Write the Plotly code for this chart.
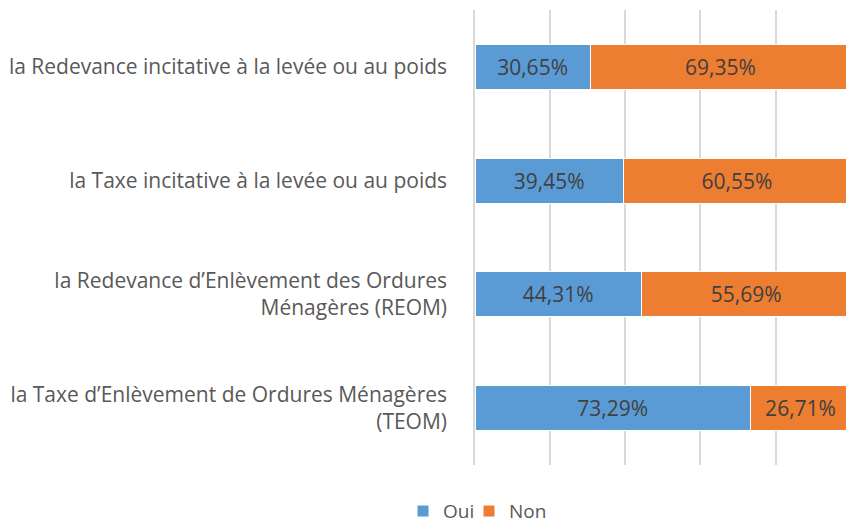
import plotly.graph_objects as go

categories = [
    "la Taxe d’Enlèvement de Ordures Ménagères<br>(TEOM)",
    "la Redevance d’Enlèvement des Ordures<br>Ménagères (REOM)",
    "la Taxe incitative à la levée ou au poids",
    "la Redevance incitative à la levée ou au poids",
]
oui = [73.29, 44.31, 39.45, 30.65]
non = [26.71, 55.69, 60.55, 69.35]
series_names = ["Oui", "Non"]
colors = ["#5B9BD5", "#ED7D31"]
legends = ["legend", "legend2"]

def fmt(v):
    return f"{v:.2f}%".replace(".", ",")

fig = go.Figure()
for name, vals, col, lg in zip(series_names, [oui, non], colors, legends):
    fig.add_trace(go.Bar(
        y=categories, x=[v / 100 for v in vals], name=name, orientation="h",
        marker=dict(color=col, line=dict(color="white", width=1)),
        text=[fmt(v) for v in vals], textposition="inside", insidetextanchor="middle",
        textfont=dict(color="#404040", size=21, family="Open Sans"),
        legend=lg,
    ))

leg_common = dict(orientation="h", xref="container", xanchor="left",
                  yref="container", y=0.03, yanchor="middle",
                  font=dict(size=19, color="#595959"), itemwidth=30,
                  bgcolor="rgba(0,0,0,0)")
fig.update_layout(
    barmode="stack", bargap=0.605,
    width=846, height=527,
    margin=dict(l=475, r=0, t=10, b=62, autoexpand=False),
    paper_bgcolor="white", plot_bgcolor="white",
    font=dict(family="Open Sans", color="#595959", size=21),
    showlegend=True,
    legend=dict(x=403 / 846, **leg_common),
    legend2=dict(x=469 / 846, **leg_common),
)
fig.update_xaxes(range=[0, 0.9875], dtick=0.2, showgrid=True, gridcolor="#D9D9D9", gridwidth=1.5,
                 showticklabels=False, zeroline=False, fixedrange=True)
fig.update_yaxes(showgrid=False, ticklabelstandoff=22, showline=True, linecolor="#D9D9D9",
                 linewidth=1.5, tickfont=dict(size=21, color="#595959"), fixedrange=True)
fig.write_html("out.html", config={"displayModeBar": False},
               post_script="document.body.style.margin='0';")
